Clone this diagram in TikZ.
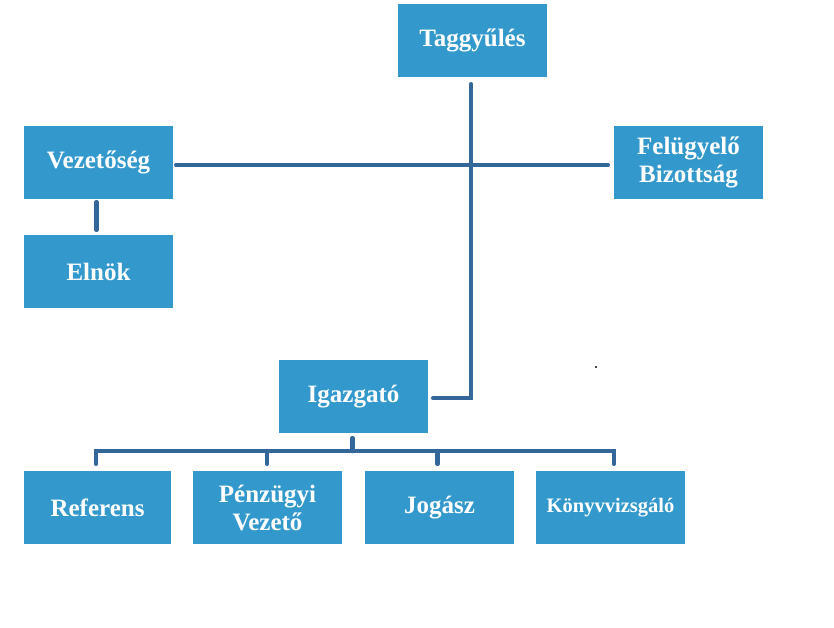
\documentclass[tikz,border=0pt]{standalone}
\usepackage{fontspec}
\setmainfont{Liberation Serif}
\definecolor{boxblue}{RGB}{51,153,204}
\definecolor{lineblue}{RGB}{51,102,153}
\begin{document}
\begin{tikzpicture}[x=1pt,y=-1pt,
  orgbox/.style={draw=none,fill=boxblue,text=white,font=\fontsize{25}{28}\selectfont\bfseries,
    minimum width=149pt,minimum height=73pt,inner sep=0pt,align=center},
  conn/.style={draw=lineblue,line width=4.5pt,line cap=round,line join=miter}]
\useasboundingbox (0,0) rectangle (834,628);
\node[orgbox] (tag) at (472.5,40.5) {Taggyűlés};
\node[orgbox] (vez) at (98.5,162.5) {Vezetőség};
\node[orgbox] (fel) at (688.5,162.5) {Felügyelő\\Bizottság};
\node[orgbox] (eln) at (98.5,271.5) {Elnök};
\node[orgbox] (igaz) at (353.5,396.5) {Igazgató};
\node[orgbox,minimum width=147pt] (ref) at (97.5,507.5) {Referens};
\node[orgbox] (pen) at (267.5,507.5) {Pénzügyi\\Vezető};
\node[orgbox] (jog) at (439.5,507.5) {Jogász};
\node[orgbox,font=\fontsize{20.5}{24}\selectfont\bfseries] (kon) at (610.5,507.5) {Könyvvizsgáló};
\coordinate (busy) at (0,451);
\draw[conn] ([xshift=-1.5pt,yshift=-7pt]tag.south) |- ([xshift=5pt,yshift=-1.5pt]igaz.east);
\draw[conn] ([xshift=3pt,yshift=-2.5pt]vez.east) -- ([xshift=-6pt,yshift=-2.5pt]fel.west);
\draw[conn] ([xshift=-2pt,yshift=-3pt]vez.south) -- ([xshift=-2pt,yshift=5pt]eln.north);
\draw[conn] ([xshift=-1pt,yshift=-5pt]igaz.south) -- ([xshift=-1pt]igaz.south |- busy);
\draw[conn] ([xshift=-1.5pt,yshift=7pt]ref.north) -- ([xshift=-1.5pt]ref.north |- busy) -- ([xshift=3.5pt]kon.north |- busy) -- ([xshift=3.5pt,yshift=7pt]kon.north);
\draw[conn] ([xshift=-0.5pt,yshift=7pt]pen.north) -- ([xshift=-0.5pt]pen.north |- busy);
\draw[conn] ([xshift=-2pt,yshift=7pt]jog.north) -- ([xshift=-2pt]jog.north |- busy);
\fill[black!75] (595,366) rectangle (597,368);
\end{tikzpicture}
\end{document}
